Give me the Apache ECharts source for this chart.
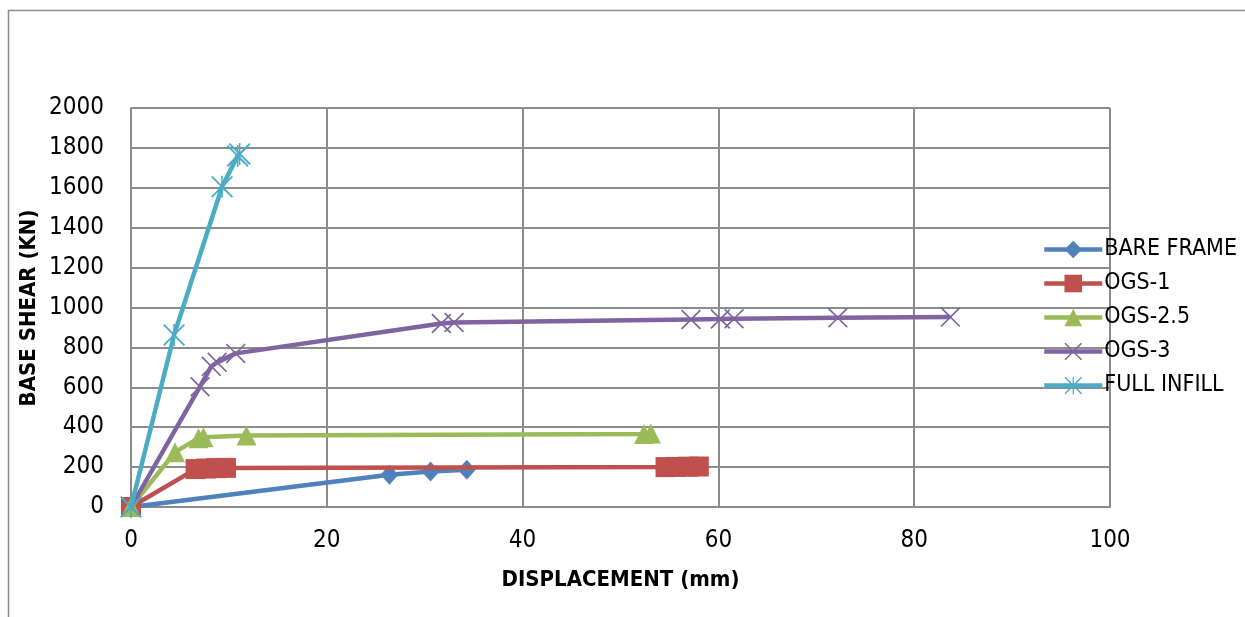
<!DOCTYPE html>
<html>
<head>
<meta charset="utf-8">
<script src="https://cdn.jsdelivr.net/npm/echarts@6/dist/echarts.min.js"></script>
<style>
  html, body { margin: 0; padding: 0; background: #fff; }
  #chart { width: 1245px; height: 617px; }
</style>
</head>
<body>
<div id="chart"></div>
<script>
// values
var bareFrameX  = [0, 26.4, 30.6, 34.3];
var bareFrameY  = [0, 162, 178, 187];
var ogs1X       = [0, 6.6, 7.7, 8.7, 9.7, 54.6, 55.7, 56.9, 58.0];
var ogs1Y       = [0, 190, 193, 195, 196, 200, 201, 202, 203];
var ogs25X      = [0, 4.5, 6.9, 7.4, 11.8, 52.4, 53.1];
var ogs25Y      = [0, 275, 345, 350, 358, 366, 368];
var ogs3X       = [0, 7.05, 8.2, 8.8, 10.7, 31.7, 33.0, 57.2, 60.2, 61.6, 72.2, 83.7];
var ogs3Y       = [0, 603, 705, 725, 770, 920, 925, 940, 942, 944, 948, 952];
var fullInfillX = [0, 4.4, 9.3, 10.9, 11.1];
var fullInfillY = [0, 862, 1605, 1760, 1770];

var seriesNames = ['BARE FRAME', 'OGS-1', 'OGS-2.5', 'OGS-3', 'FULL INFILL'];
var seriesColors = ['#4F81BD', '#C0504D', '#9BBB59', '#8064A2', '#4BACC6'];

var xTicks = { min: 0, max: 100, interval: 20 };
var yTicks = { min: 0, max: 2000, interval: 200 };

function pairs(xs, ys) {
    var out = [];
    for (var i = 0; i < xs.length; i++) out.push([xs[i], ys[i]]);
    return out;
}

var FONT = "'DejaVu Sans Condensed', 'Liberation Sans', sans-serif";
var crossPath = 'path://M0,1.2L1.2,0L20,18.8L18.8,20Z M18.8,0L20,1.2L1.2,20L0,18.8Z';
var starPath = 'path://M0,1.2L1.2,0L20,18.8L18.8,20Z M18.8,0L20,1.2L1.2,20L0,18.8Z M9.3,0L10.7,0L10.7,20L9.3,20Z';

var chart = echarts.init(document.getElementById('chart'));

function lineSeries(i, data, symbol, size) {
    return {
        name: seriesNames[i],
        type: 'line',
        data: data,
        symbol: symbol,
        symbolSize: size,
        showAllSymbol: true,
        smooth: false,
        lineStyle: { color: seriesColors[i], width: 4.5 },
        itemStyle: { color: seriesColors[i] },
        emphasis: { disabled: true },
        z: 2 + i
    };
}

var option = {
    animation: false,
    backgroundColor: '#fff',
    textStyle: { fontFamily: FONT },
    graphic: [{
        type: 'rect',
        shape: { x: 8.5, y: 10.5, width: 1400, height: 800 },
        style: { fill: 'none', stroke: '#8c8c8c', lineWidth: 1.5 },
        silent: true
    }, {
        type: 'text',
        x: 29, y: 308,
        rotation: Math.PI / 2,
        style: {
            text: 'BASE SHEAR (KN)',
            font: 'bold 22px ' + FONT,
            fill: '#000',
            align: 'center',
            verticalAlign: 'middle'
        }
    }],
    grid: { left: 131, right: 135, top: 108, bottom: 110, containLabel: false },
    legend: {
        orient: 'vertical',
        left: 1042,
        top: 238,
        padding: 0,
        itemWidth: 58,
        itemHeight: 22,
        itemGap: 11,
        lineStyle: { width: 4.5 },
        textStyle: { fontSize: 23, lineHeight: 20, color: '#000', fontFamily: FONT, padding: [0, 0, 0, -3] },
        data: seriesNames
    },
    xAxis: {
        type: 'value',
        min: xTicks.min, max: xTicks.max, interval: xTicks.interval,
        name: 'DISPLACEMENT (mm)',
        nameLocation: 'middle',
        nameGap: 62,
        nameTextStyle: { fontSize: 22, fontWeight: 'bold', color: '#000', fontFamily: FONT },
        axisLine: { show: true, lineStyle: { color: '#8c8c8c', width: 2 } },
        axisTick: { show: false },
        axisLabel: { fontSize: 24, color: '#000', margin: 22, fontFamily: FONT },
        splitLine: { show: true, lineStyle: { color: '#8c8c8c', width: 2 } }
    },
    yAxis: {
        type: 'value',
        min: yTicks.min, max: yTicks.max, interval: yTicks.interval,
        axisLine: { show: true, lineStyle: { color: '#8c8c8c', width: 2 } },
        axisTick: { show: false },
        axisLabel: {
            fontSize: 24, color: '#000', margin: 27, fontFamily: FONT,
            formatter: function (v) { return String(v); }
        },
        splitLine: { show: true, lineStyle: { color: '#8c8c8c', width: 2 } }
    },
    series: [
        lineSeries(0, pairs(bareFrameX, bareFrameY), 'diamond', [18, 20]),
        lineSeries(1, pairs(ogs1X, ogs1Y), 'rect', 20),
        lineSeries(2, pairs(ogs25X, ogs25Y), 'triangle', 20),
        lineSeries(3, pairs(ogs3X, ogs3Y), crossPath, 20),
        lineSeries(4, pairs(fullInfillX, fullInfillY), starPath, 22)
    ]
};

chart.setOption(option);
window.addEventListener('resize', function () {
    chart.resize();
});
</script>
</body>
</html>
